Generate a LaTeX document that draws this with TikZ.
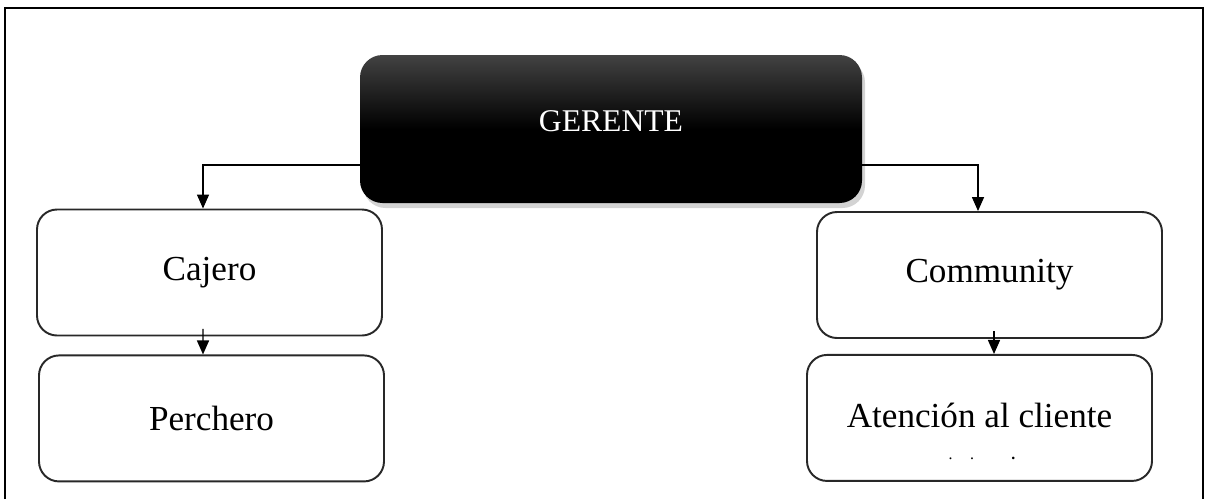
\documentclass[tikz,border=0pt]{standalone}
\usepackage{fontspec}
\setmainfont{Liberation Serif}
\usetikzlibrary{arrows.meta,positioning,shadows}
\definecolor{BoxLine}{RGB}{40,40,40}
\definecolor{BossTop}{RGB}{66,66,66}

\begin{document}
\begin{tikzpicture}[
    box/.style={draw=BoxLine, line width=1.1pt, rounded corners=0.4cm, fill=white,
                minimum width=6.9cm, minimum height=2.52cm, align=center,
                font=\fontsize{20}{24}\selectfont},
    boss/.style={rounded corners=0.45cm, top color=BossTop, bottom color=black,
                 middle color=black, minimum width=10.04cm, minimum height=2.96cm,
                 text=white, font=\fontsize{18}{22}\selectfont,
                 drop shadow={opacity=0.35, shadow xshift=0.06cm, shadow yshift=-0.1cm}},
    arr/.style={-{Triangle[length=0.28cm, width=0.24cm]}, line width=0.85pt},
    node distance=0.36cm
]
    \useasboundingbox (0,0) rectangle (24.1,-9.98);
    \draw[line width=1.4pt] (0.1,-9.98) -- (0.1,-0.16) -- (24.06,-0.16) -- (24.06,-9.98);

    \node[boss] (gerente) at (12.22,-2.58) {\raisebox{0.3cm}{GERENTE}};
    \node[box] (cajero) at (4.19,-5.45) {Cajero};
    \node[box, below=of cajero, xshift=0.04cm] (perchero) {Perchero};
    \node[box] (community) at (19.79,-5.5) {Community};
    \node[box, below=0.3cm of community, xshift=-0.2cm] (atencion) {\raisebox{0.12cm}{Atención al cliente}};
    \node[font=\small, inner sep=0pt] (atencdots) at ([xshift=0.05cm, yshift=-0.8cm]atencion.center) {.\hspace{0.35cm}.\hspace{0.75cm}\textbf{.}};

    \draw[arr] ([yshift=-0.72cm]gerente.west) -| ([xshift=-0.13cm]cajero.north);
    \draw[arr] ([yshift=-0.72cm]gerente.east) -| ([xshift=-0.23cm]community.north);
    \draw[arr] ([xshift=-0.13cm, yshift=0.15cm]cajero.south) -- ([xshift=-0.17cm]perchero.north);
    \draw[arr] ([xshift=0.09cm, yshift=0.15cm]community.south) -- ([xshift=0.29cm]atencion.north);
\end{tikzpicture}
\end{document}
